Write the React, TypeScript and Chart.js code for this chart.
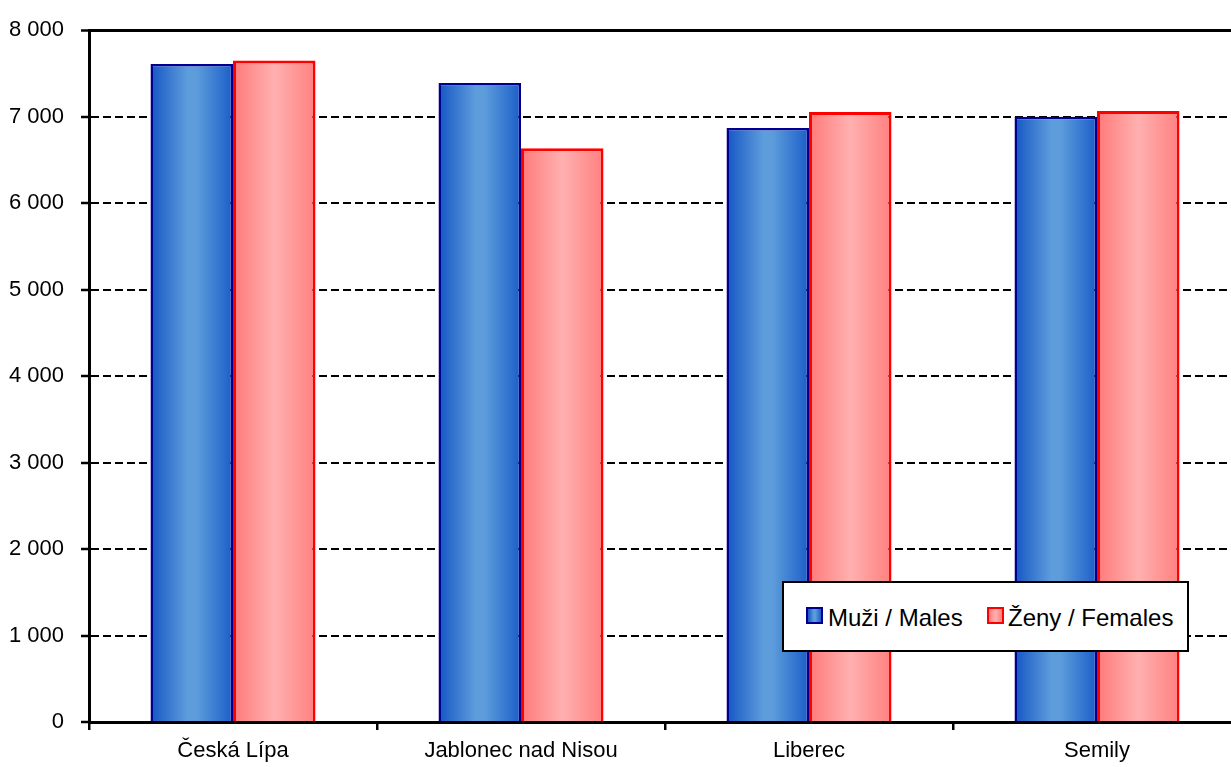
import React, { useEffect, useRef } from "react";
import { Chart, registerables } from "chart.js";

Chart.register(...registerables);

const categories = ["Česká Lípa", "Jablonec nad Nisou", "Liberec", "Semily"];
const males = [7610, 7390, 6870, 7000];
const females = [7650, 6635, 7055, 7065];
const seriesLabels = ["Muži / Males", "Ženy / Females"];
const yTicks = { min: 0, max: 8000, step: 1000 };

const FONT = "'Liberation Sans', Arial, sans-serif";
const TICK_SIZE = 22;
const CAT_PCT = 0.573;
const BLUE_STOPS: [number, string][] = [
  [0, "#1556c4"],
  [0.45, "#5e9ddc"],
  [0.55, "#5e9ddc"],
  [1, "#1a5ec8"],
];
const RED_STOPS: [number, string][] = [
  [0, "#ff7a7a"],
  [0.5, "#ffb0b0"],
  [1, "#ff8080"],
];

function makeGrad(c: any, stops: [number, string][], side: number) {
  const chart = c.chart;
  const x = chart.scales && chart.scales.x;
  if (!x || !chart.chartArea || c.dataIndex === undefined || !x.width) return stops[1][1];
  const center = x.getPixelForValue(c.dataIndex);
  const catW = x.width / categories.length;
  const barW = (catW * CAT_PCT) / 2;
  const left = side === 0 ? center - barW : center;
  const g = chart.ctx.createLinearGradient(left, 0, left + barW, 0);
  stops.forEach(([o, col]) => g.addColorStop(o, col));
  return g;
}

function fmt(v: number) {
  return String(v).replace(/\B(?=(\d{3})+(?!\d))/g, " ");
}

export default function App() {
  const ref = useRef<HTMLCanvasElement | null>(null);
  useEffect(() => {
    if (!ref.current) return;
    const chart = new Chart(ref.current, {
      type: "bar",
      data: {
        labels: categories,
        datasets: [
          {
            label: seriesLabels[0],
            data: males,
            backgroundColor: (c: any) => makeGrad(c, BLUE_STOPS, 0),
            borderColor: "#000090",
            borderWidth: 2.5,
            categoryPercentage: CAT_PCT,
            barPercentage: 1,
          },
          {
            label: seriesLabels[1],
            data: females,
            backgroundColor: (c: any) => makeGrad(c, RED_STOPS, 1),
            borderColor: "#ff0000",
            borderWidth: 3,
            categoryPercentage: CAT_PCT,
            barPercentage: 1,
          },
        ],
      },
      options: {
        responsive: false,
        animation: false,
        layout: { padding: { top: 23, right: 9, left: 0, bottom: 0 } },
        plugins: { legend: { display: false }, tooltip: { enabled: false } },
        scales: {
          x: {
            grid: {
              display: true,
              offset: true,
              drawOnChartArea: false,
              drawTicks: true,
              tickLength: 8,
              color: "#000",
              lineWidth: 2.5,
            },
            border: { display: true, color: "#000", width: 3 },
            ticks: { color: "#000", font: { family: FONT, size: TICK_SIZE }, padding: 8 },
            afterFit: (s: any) => {
              s.height = 45;
            },
          },
          y: {
            min: yTicks.min,
            max: yTicks.max,
            grid: {
              color: "#000",
              lineWidth: (c: any) => (c.tick && c.tick.value === yTicks.max ? 3 : 2),
              tickLength: 8,
              tickWidth: 2.5,
              tickColor: "#000",
              tickBorderDash: [],
            },
            border: {
              display: true,
              color: "#000",
              width: 3,
              dash: (c: any) => (c.tick && c.tick.value === yTicks.max ? [] : [8, 4]),
            },
            ticks: {
              stepSize: yTicks.step,
              color: "#000",
              font: { family: FONT, size: TICK_SIZE },
              padding: 17,
              callback: (v: any) => fmt(Number(v)),
            },
            afterFit: (s: any) => {
              s.width = 89;
            },
          },
        },
      },
    } as any);
    return () => chart.destroy();
  }, []);

  const sw = (stops: [number, string][], border: string) => ({
    position: "absolute" as const,
    top: 24,
    width: 13,
    height: 13,
    border: `2.5px solid ${border}`,
    background: `linear-gradient(to right, ${stops.map(([o, c]) => `${c} ${o * 100}%`).join(", ")})`,
  });
  const txt = {
    position: "absolute" as const,
    top: 1,
    lineHeight: "67px",
    fontFamily: FONT,
    fontSize: 24,
    color: "#000",
    whiteSpace: "nowrap" as const,
  };

  return (
    <div style={{ position: "fixed", left: 0, top: 0, width: 1231, height: 767, overflow: "hidden", background: "#fff" }}>
      <canvas ref={ref} width={1250} height={767} style={{ display: "block" }} />
      <div
        style={{
          position: "absolute",
          left: 782,
          top: 581,
          width: 403,
          height: 67,
          border: "2.5px solid #000",
          background: "#fff",
        }}
      >
        <span style={{ ...sw(BLUE_STOPS, "#000090"), left: 22 }} />
        <span style={{ ...txt, left: 44 }}>{seriesLabels[0]}</span>
        <span style={{ ...sw(RED_STOPS, "#ff0000"), left: 203 }} />
        <span style={{ ...txt, left: 224 }}>{seriesLabels[1]}</span>
      </div>
    </div>
  );
}
